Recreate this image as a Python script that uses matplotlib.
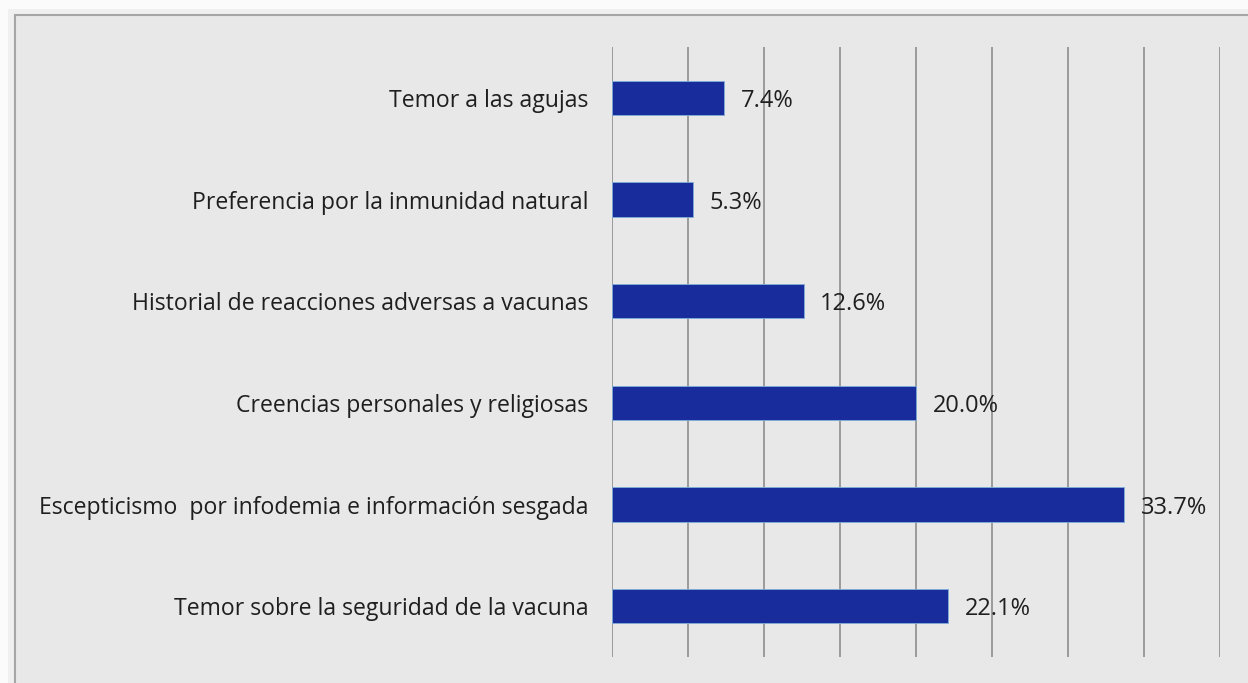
import matplotlib.pyplot as plt
from matplotlib.patches import Rectangle

# Motivos de rechazo a la vacuna (de abajo hacia arriba)
motivos = [
    "Temor sobre la seguridad de la vacuna",
    "Escepticismo  por infodemia e información sesgada",
    "Creencias personales y religiosas",
    "Historial de reacciones adversas a vacunas",
    "Preferencia por la inmunidad natural",
    "Temor a las agujas",
]
porcentajes = [22.1, 33.7, 20.0, 12.6, 5.3, 7.4]
ticks_x = [0, 5, 10, 15, 20, 25, 30, 35, 40]

plt.rcParams['font.family'] = ['Open Sans', 'DejaVu Sans']

fig = plt.figure(figsize=(12.48, 6.83), dpi=100)
fig.patch.set_facecolor('#f0f0f0')

# franja blanca superior e izquierda y marco del área del gráfico
fig.patches.append(Rectangle((0, 674 / 683), 1, 0.1, transform=fig.transFigure,
                             facecolor='#fbfbfb', edgecolor='none', zorder=-2))
fig.patches.append(Rectangle((0, 0), 8 / 1248, 1, transform=fig.transFigure,
                             facecolor='#fbfbfb', edgecolor='none', zorder=-2))
fig.patches.append(Rectangle((15 / 1248, -0.1), 1.1, 1.1 - 15 / 683,
                             transform=fig.transFigure, facecolor='#e8e8e8',
                             edgecolor='#a6a6a6', linewidth=1.5, zorder=-1))

ax = fig.add_axes([612 / 1248, 26 / 683, 608 / 1248, 610 / 683])
ax.set_zorder(2)
ax.set_facecolor('none')

y = range(len(motivos))
ax.barh(y, porcentajes, height=0.34, color='#182c9c', edgecolor='#7fb0d8',
        linewidth=0.6, zorder=3)

for yi, v in zip(y, porcentajes):
    ax.text(v + 1.1, yi, f"{v:.1f}%", va='center_baseline', ha='left',
            fontsize=17, color='#1f1f1f', zorder=4)

ax.set_xlim(0, 40)
ax.set_ylim(-0.5, len(motivos) - 0.5)
ax.set_xticks(ticks_x)
ax.set_xticklabels([])
ax.set_yticks(list(y))
ax.set_yticklabels(motivos, fontsize=16.6, color='#1f1f1f')
ax.tick_params(axis='both', length=0)
ax.tick_params(axis='y', pad=17)
ax.grid(axis='x', color='#9a9a9a', linewidth=1.4, zorder=1)
for s in ax.spines.values():
    s.set_visible(False)

fig.savefig('out.png', dpi=100, facecolor=fig.get_facecolor())
